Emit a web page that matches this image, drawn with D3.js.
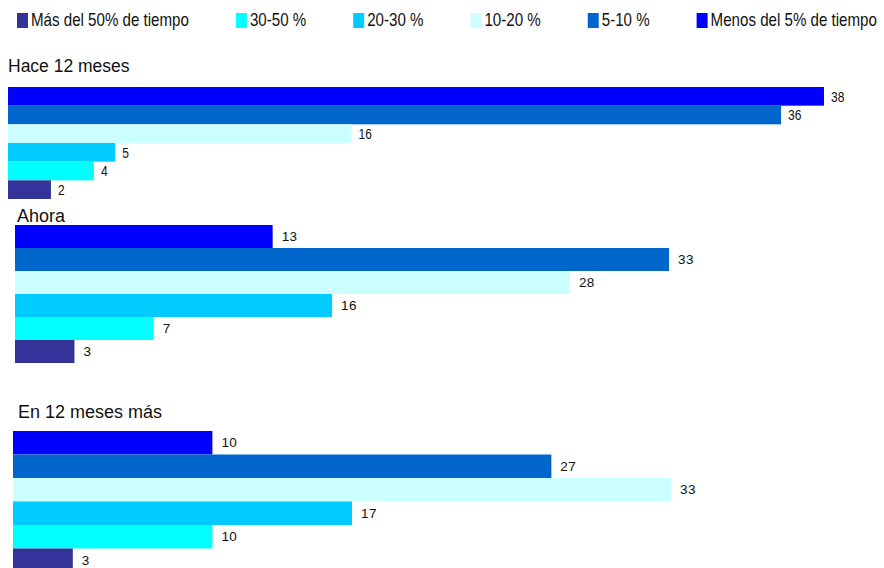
<!DOCTYPE html>
<html>
<head>
<meta charset="utf-8">
<script src="https://cdn.jsdelivr.net/npm/d3@7"></script>
<style>
  body { margin: 0; background: #fff; }
  svg { display: block; }
  text { font-family: "Liberation Sans", Arial, sans-serif; fill: #111; }
</style>
</head>
<body>
<svg id="chart" width="884" height="568"></svg>
<script>
// categories, top bar to bottom bar
let categories = ['Menos del 5% de tiempo', '5-10 %', '10-20 %', '20-30 %', '30-50 %', 'Más del 50% de tiempo']
// legend reads the other way round
let legendOrder = ['Más del 50% de tiempo', '30-50 %', '20-30 %', '10-20 %', '5-10 %', 'Menos del 5% de tiempo']

let panelTitles = ['Hace 12 meses', 'Ahora', 'En 12 meses más']
let haceValues = [38, 36, 16, 5, 4, 2]
let ahoraValues = [13, 33, 28, 16, 7, 3]
let futuroValues = [10, 27, 33, 17, 10, 3]

let colorScale = d3.scaleOrdinal()
    .domain(categories)
    .range(['#0000FF', '#0066CC', '#CCFFFF', '#00CCFF', '#00FFFF', '#333399'])

let narrowScale = 0.84 // no narrow font installed, squeeze the normal one

let svg = d3.select('#chart')

// ----- legend
let legend = svg.append('g').attr('class', 'legend')
let legendX = 17
legendOrder.forEach(cat => {
    let item = legend.append('g').attr('transform', 'translate(' + legendX + ',0)')
    item.append('rect')
        .attr('x', 0).attr('y', 13)
        .attr('width', 11).attr('height', 15)
        .attr('fill', colorScale(cat))
    let t = item.append('text')
        .attr('transform', 'translate(14,26) scale(' + narrowScale + ',1)')
        .style('font-size', '18px')
        .text(cat)
    let w = t.node().getComputedTextLength() * narrowScale
    legendX += 14 + w + 47
})

// ----- panels (layout only, the values come from the arrays above)
let panels = [
    {title: panelTitles[0], values: haceValues, x0: 8, x1: 824, y0: 87, y1: 199, titleX: 8, titleY: 72, titleSize: 17.5, narrow: true, maxV: 38},
    {title: panelTitles[1], values: ahoraValues, x0: 15, x1: 669, y0: 225, y1: 363, titleX: 17, titleY: 222, titleSize: 18, narrow: false, maxV: 33},
    {title: panelTitles[2], values: futuroValues, x0: 13, x1: 671, y0: 431, y1: 572, titleX: 18, titleY: 418, titleSize: 18, narrow: false, maxV: 33}
]

panels.forEach(p => {
    let g = svg.append('g')

    let x = d3.scaleLinear()
        .domain([0, p.maxV])
        .range([p.x0, p.x1])

    let y = d3.scaleBand()
        .domain(categories)
        .range([p.y0, p.y1])
        .padding(0)

    g.append('text')
        .attr('x', p.titleX)
        .attr('y', p.titleY)
        .style('font-size', p.titleSize + 'px')
        .text(p.title)

    let rows = categories.map((c, i) => ({cat: c, value: p.values[i]}))

    g.selectAll('rect.bar')
        .data(rows)
        .enter().append('rect')
        .attr('class', 'bar')
        .attr('x', x(0))
        .attr('y', d => y(d.cat))
        .attr('width', d => x(d.value) - x(0))
        .attr('height', y.bandwidth())
        .attr('fill', d => colorScale(d.cat))

    // first panel uses a condensed face for its numbers, the other two a wide one
    g.selectAll('text.lbl')
        .data(rows)
        .enter().append('text')
        .attr('class', 'lbl')
        .attr('transform', d => {
            let tx = x(d.value) + (p.narrow ? 7 : 9)
            let ty = y(d.cat) + y.bandwidth() / 2
            return 'translate(' + tx + ',' + ty + ')' + (p.narrow ? ' scale(0.8,1)' : '')
        })
        .attr('dy', '0.35em')
        .style('font-size', p.narrow ? '15px' : '13.5px')
        .style('letter-spacing', p.narrow ? null : '0.4px')
        .text(d => d.value)
})
</script>
</body>
</html>
